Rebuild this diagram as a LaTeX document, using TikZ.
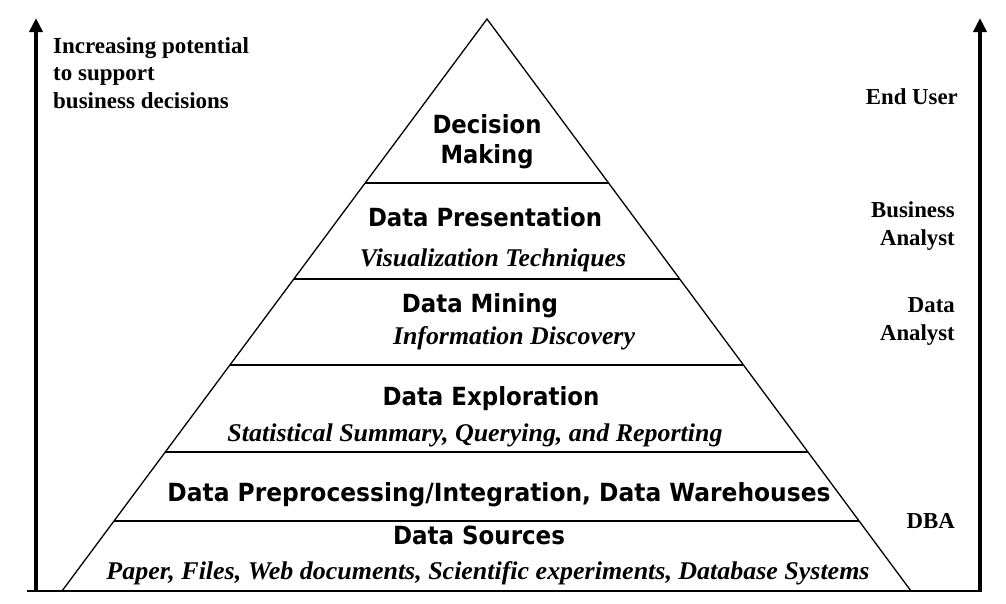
\documentclass[tikz,border=0pt]{standalone}
\usepackage{fontspec}
\usepackage{graphicx}
\setmainfont{Liberation Serif}
\newfontfamily\headfont{DejaVu Sans}
\usetikzlibrary{arrows.meta,calc}
\newcommand{\fitto}[2]{\resizebox{#1pt}{\height}{#2}}
\tikzset{
  layer/.style={font=\headfont\bfseries\fontsize{25}{30}\selectfont, inner sep=0pt, anchor=base},
  detail/.style={font=\bfseries\itshape\fontsize{25.5}{30}\selectfont, inner sep=0pt, anchor=base},
  role/.style={font=\bfseries\fontsize{22.8}{28}\selectfont, inner sep=0pt, align=right, anchor=north east},
  note/.style={font=\bfseries\fontsize{23}{27.5}\selectfont, inner sep=0pt, align=left, anchor=north west},
  edge/.style={line width=1.3pt},
  axis/.style={line width=4pt, -{Triangle[length=14pt,width=13pt]}},
}
\begin{document}
\begin{tikzpicture}[x=1pt,y=-1pt]
\useasboundingbox (0,0) rectangle (1006,603);
% pyramid
\coordinate (apex) at (487,19);
\coordinate (bl) at (62,591);
\coordinate (br) at (911,591);
\draw[edge] (bl) -- (apex) -- (br);
\foreach \t in {0.2867,0.4545,0.6049,0.7570,0.8776}{
  \draw[edge] ($(apex)!\t!(bl)$) -- ($(apex)!\t!(br)$);
}
% base line
\coordinate (baseL) at (27,591);
\coordinate (baseR) at (982,591);
\draw[edge] (baseL) -- (baseR);
% axes
\coordinate (la0) at (36,591);
\coordinate (la1) at (36,18);
\coordinate (ra0) at (980,591);
\coordinate (ra1) at (980,18);
\draw[axis] (la0) -- (la1);
\draw[axis] (ra0) -- (ra1);
% left note
\node[note] (inc) at (53,37) {Increasing potential\\to support\\business decisions};
% roles
\node[role] (enduser) at (958,88) {End User};
\node[role] (busan) at (955,201) {Business\\Analyst};
\node[role] (datan) at (955,297) {Data\\Analyst};
\node[role] (dba) at (955,513) {DBA};
% layers
\node[layer, anchor=north, align=center] (dec) at (487,114) {\fitto{109}{Decision}\\\fitto{93}{Making}};
\node[layer] (pres) at (485,226) {\fitto{234}{Data Presentation}};
\node[detail] (vis) at (493,266) {\fitto{266}{Visualization Techniques}};
\node[layer] (mine) at (480,312) {\fitto{156}{Data Mining}};
\node[detail] (info) at (514,344) {\fitto{242}{Information Discovery}};
\node[layer] (expl) at (491,405) {\fitto{217}{Data Exploration}};
\node[detail] (stat) at (475,441) {\fitto{495}{Statistical Summary, Querying, and Reporting}};
\node[layer] (prep) at (499,501) {\fitto{663}{Data Preprocessing/Integration, Data Warehouses}};
\node[layer] (src) at (479,544) {\fitto{172}{Data Sources}};
\node[detail] (paper) at (488,579) {\fitto{763}{Paper, Files, Web documents, Scientific experiments, Database Systems}};
\end{tikzpicture}
\end{document}
